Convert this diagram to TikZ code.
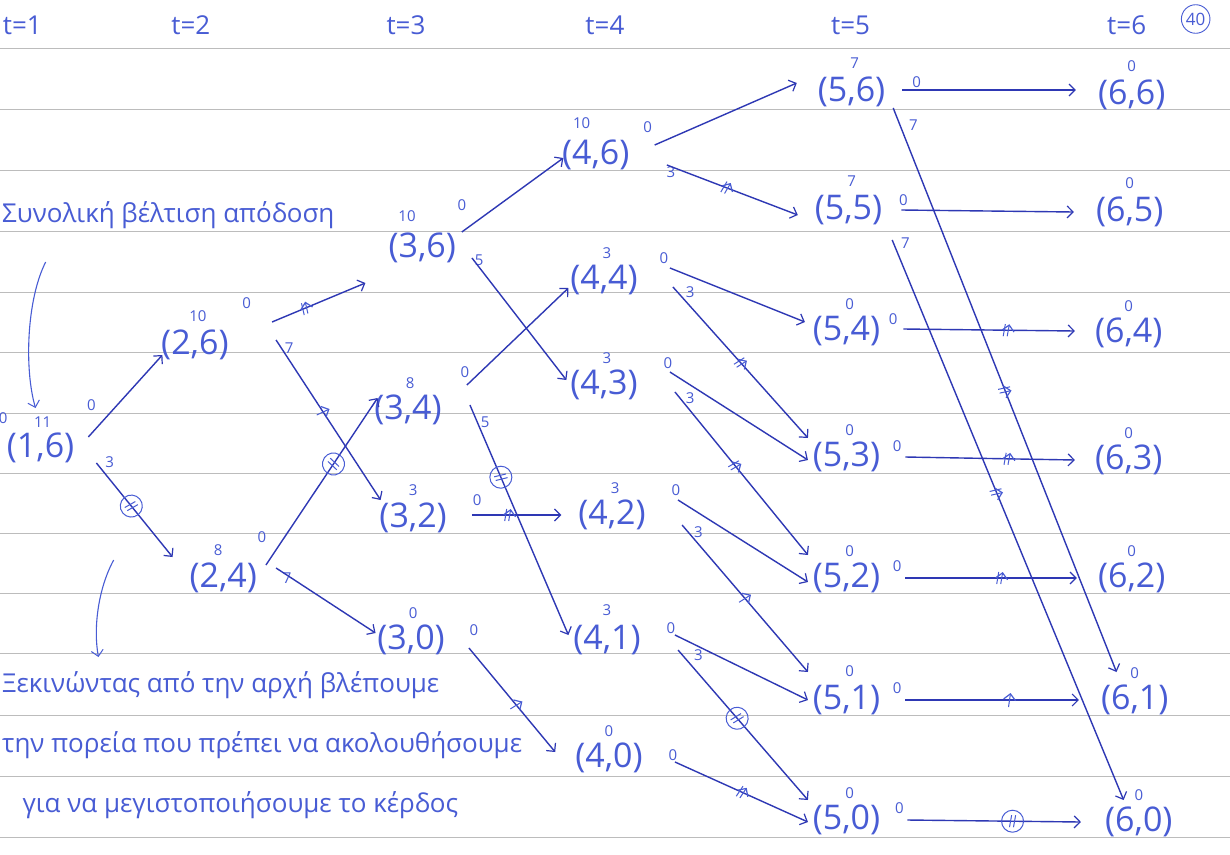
\documentclass[tikz,border=0pt]{standalone}
\usepackage{fontspec}
\setmainfont{Open Sans}
\usetikzlibrary{arrows.meta,decorations.markings,calc}
\definecolor{ink}{RGB}{72,92,212}
\definecolor{inkd}{RGB}{46,56,180}
\definecolor{ruling}{RGB}{188,188,188}
\tikzset{
  st/.style={text=ink,font=\fontsize{34}{36}\selectfont,inner sep=1pt},
  sup/.style={text=ink,font=\fontsize{15}{15}\selectfont,inner sep=0pt},
  lab/.style={text=ink,font=\fontsize{15}{15}\selectfont,inner sep=0pt},
  tlab/.style={text=ink,font=\fontsize{26}{28}\selectfont,inner sep=0pt},
  note/.style={text=ink,font=\fontsize{26}{28}\selectfont,inner sep=0pt,anchor=base west},
  edge/.style={draw=inkd,line width=1.4pt,-{Straight Barb[length=6pt,width=12pt,line width=1.2pt]}},
  thinarrow/.style={draw=ink,line width=1.1pt,-{Straight Barb[length=6pt,width=12pt,line width=1pt]}},
  dtk/.style={postaction={decorate,decoration={markings,mark=at position #1 with {\draw[ink,line width=1pt] (-3pt,-6pt)--(-1pt,6pt) (1pt,-6pt)--(3pt,6pt);}}}},
  stk/.style={postaction={decorate,decoration={markings,mark=at position #1 with {\draw[ink,line width=1pt] (-1pt,-7pt)--(1pt,7pt);}}}},
  ctk/.style={postaction={decorate,decoration={markings,mark=at position #1 with {\draw[ink,line width=1pt] (-2pt,-6pt)--(0pt,6pt) (2pt,-6pt)--(4pt,6pt) (1pt,0pt) circle (11pt);}}}},
  rl/.style={draw=ruling,line width=0.7pt},
}
\begin{document}
\begin{tikzpicture}[x=1.015pt,y=-1pt]
\useasboundingbox (0pt,0pt) rectangle (1230pt,-854pt);
\fill[white] (0pt,0pt) rectangle (1230pt,-854pt);
% ruled lines
\foreach \yy in {48,109,170,231,292,352,413,473,533,593,653,715,776,837}
  \draw[rl] (0pt,-\yy pt) -- (1230pt,-\yy pt);
% time labels
\node[tlab] (t1) at (22,25) {t=1};
\node[tlab] (t2) at (188,25) {t=2};
\node[tlab] (t3) at (400,25) {t=3};
\node[tlab] (t4) at (596,25) {t=4};
\node[tlab] (t5) at (838,25) {t=5};
\node[tlab] (t6) at (1110,25) {t=6};
\node[text=ink,draw=ink,circle,line width=0.9pt,inner sep=2pt,font=\fontsize{17}{17}\selectfont] (pg) at (1178,19) {40};
% states
\node[st] (n16) at (40,448) {(1,6)};
\node[st] (n26) at (192,345) {(2,6)};
\node[st] (n24) at (220,578) {(2,4)};
\node[st] (n36) at (416,248) {(3,6)};
\node[st] (n34) at (402,410) {(3,4)};
\node[st] (n32) at (407,518) {(3,2)};
\node[st] (n30) at (405,640) {(3,0)};
\node[st] (n46) at (587,155) {(4,6)};
\node[st] (n44) at (595,280) {(4,4)};
\node[st] (n43) at (595,385) {(4,3)};
\node[st] (n42) at (603,515) {(4,2)};
\node[st] (n41) at (598,640) {(4,1)};
\node[st] (n40) at (600,758) {(4,0)};
\node[st] (n56) at (839,92) {(5,6)};
\node[st] (n55) at (836,210) {(5,5)};
\node[st] (n54) at (834,331) {(5,4)};
\node[st] (n53) at (834,457) {(5,3)};
\node[st] (n52) at (834,578) {(5,2)};
\node[st] (n51) at (834,700) {(5,1)};
\node[st] (n50) at (834,820) {(5,0)};
\node[st] (n66) at (1115,95) {(6,6)};
\node[st] (n65) at (1113,212) {(6,5)};
\node[st] (n64) at (1112,333) {(6,4)};
\node[st] (n63) at (1112,460) {(6,3)};
\node[st] (n62) at (1115,578) {(6,2)};
\node[st] (n61) at (1118,700) {(6,1)};
\node[st] (n60) at (1122,822) {(6,0)};
% values above states
\node[sup] (s16) at (42,422) {11};
\node[sup] (s26) at (195,316) {10};
\node[sup] (s24) at (215,550) {8};
\node[sup] (s36) at (401,216) {10};
\node[sup] (s34) at (404,383) {8};
\node[sup] (s32) at (407,490) {3};
\node[sup] (s30) at (407,613) {0};
\node[sup] (s46) at (573,123) {10};
\node[sup] (s44) at (598,253) {3};
\node[sup] (s43) at (598,358) {3};
\node[sup] (s42) at (606,488) {3};
\node[sup] (s41) at (598,610) {3};
\node[sup] (s40) at (600,731) {0};
\node[sup] (s56) at (842,63) {7};
\node[sup] (s55) at (839,181) {7};
\node[sup] (s54) at (837,304) {0};
\node[sup] (s53) at (837,430) {0};
\node[sup] (s52) at (837,551) {0};
\node[sup] (s51) at (837,671) {0};
\node[sup] (s50) at (837,793) {0};
\node[sup] (s66) at (1115,66) {0};
\node[sup] (s65) at (1113,183) {0};
\node[sup] (s64) at (1112,306) {0};
\node[sup] (s63) at (1112,433) {0};
\node[sup] (s62) at (1115,551) {0};
\node[sup] (s61) at (1118,673) {0};
\node[sup] (s60) at (1122,795) {0};
% decision labels
\node[lab] (l16c) at (3,418) {0};
\node[lab] (l16a) at (90,405) {0};
\node[lab] (l16b) at (108,462) {3};
\node[lab] (l26a) at (243,303) {0};
\node[lab] (l26b) at (285,348) {7};
\node[lab] (l24a) at (258,537) {0};
\node[lab] (l24b) at (283,578) {7};
\node[lab] (l36a) at (455,205) {0};
\node[lab] (l36b) at (472,260) {5};
\node[lab] (l34a) at (458,372) {0};
\node[lab] (l34b) at (478,422) {5};
\node[lab] (l32a) at (470,500) {0};
\node[lab] (l30a) at (467,630) {0};
\node[lab] (l46a) at (638,127) {0};
\node[lab] (l46b) at (661,172) {3};
\node[lab] (l44a) at (654,258) {0};
\node[lab] (l44b) at (680,292) {3};
\node[lab] (l43a) at (658,363) {0};
\node[lab] (l43b) at (680,398) {3};
\node[lab] (l42a) at (666,490) {0};
\node[lab] (l42b) at (688,532) {3};
\node[lab] (l41a) at (661,628) {0};
\node[lab] (l41b) at (688,655) {3};
\node[lab] (l40a) at (663,755) {0};
\node[lab] (l56a) at (903,82) {0};
\node[lab] (l56b) at (900,125) {7};
\node[lab] (l55a) at (890,200) {0};
\node[lab] (l55b) at (892,243) {7};
\node[lab] (l54a) at (880,319) {0};
\node[lab] (l53a) at (884,446) {0};
\node[lab] (l52a) at (884,566) {0};
\node[lab] (l51a) at (884,688) {0};
\node[lab] (l50a) at (886,808) {0};
% transitions t=1 -> t=2
\draw[edge] ([shift={(47,-11)}]n16.center) -- ([shift={(-32,10)}]n26.center);
\draw[edge,ctk=0.45] ([shift={(55,15)}]n16.center) -- ([shift={(-50,-21)}]n24.center);
% t=2 -> t=3
\draw[edge,dtk=0.35] ([shift={(76,-23)}]n26.center) -- ([shift={(-56,35)}]n36.center);
\draw[edge,stk=0.45] ([shift={(80,-5)}]n26.center) -- ([shift={(-32,-18)}]n32.center);
\draw[edge,ctk=0.6] ([shift={(42,-13)}]n24.center) -- ([shift={(-30,-12)}]n34.center);
\draw[edge] ([shift={(52,-10)}]n24.center) -- ([shift={(-35,-7)}]n30.center);
% t=3 -> t=4
\draw[edge] ([shift={(39,-16)}]n36.center) -- ([shift={(-32,3)}]n46.center);
\draw[edge] ([shift={(49,10)}]n36.center) -- ([shift={(-37,-5)}]n43.center);
\draw[edge] ([shift={(58,-25)}]n34.center) -- ([shift={(-35,8)}]n44.center);
\draw[edge,ctk=0.31] ([shift={(61,-5)}]n34.center) -- ([shift={(-38,-5)}]n41.center);
\draw[edge,dtk=0.4] ([shift={(58,-3)}]n32.center) -- ([shift={(-50,0)}]n42.center);
\draw[edge,stk=0.55] ([shift={(57,8)}]n30.center) -- ([shift={(-53,-6)}]n40.center);
% t=4 -> t=5
\draw[edge] ([shift={(58,-10)}]n46.center) -- ([shift={(-54,-9)}]n56.center);
\draw[edge,dtk=0.45] ([shift={(70,10)}]n46.center) -- ([shift={(-50,5)}]n55.center);
\draw[edge] ([shift={(65,-12)}]n44.center) -- ([shift={(-41,-9)}]n54.center);
\draw[edge,dtk=0.5] ([shift={(68,7)}]n44.center) -- ([shift={(-38,-19)}]n53.center);
\draw[edge] ([shift={(65,-13)}]n43.center) -- ([shift={(-38,3)}]n53.center);
\draw[edge,dtk=0.45] ([shift={(70,7)}]n43.center) -- ([shift={(-38,-23)}]n52.center);
\draw[edge] ([shift={(65,-15)}]n42.center) -- ([shift={(-38,4)}]n52.center);
\draw[edge,stk=0.5] ([shift={(69,10)}]n42.center) -- ([shift={(-38,-28)}]n51.center);
\draw[edge] ([shift={(67,-5)}]n41.center) -- ([shift={(-38,0)}]n51.center);
\draw[edge,ctk=0.45] ([shift={(70,10)}]n41.center) -- ([shift={(-38,-20)}]n50.center);
\draw[edge,dtk=0.5] ([shift={(65,4)}]n40.center) -- ([shift={(-38,2)}]n50.center);
% t=5 -> t=6
\draw[edge] ([shift={(50,-2)}]n56.center) -- ([shift={(-55,-5)}]n66.center);
\draw[edge,dtk=0.5] ([shift={(41,16)}]n56.center) -- ([shift={(-18,-28)}]n61.center);
\draw[edge] ([shift={(52,0)}]n55.center) -- ([shift={(-55,0)}]n65.center);
\draw[edge,dtk=0.45] ([shift={(43,30)}]n55.center) -- ([shift={(-15,-22)}]n60.center);
\draw[edge,dtk=0.6] ([shift={(56,-2)}]n54.center) -- ([shift={(-53,-2)}]n64.center);
\draw[edge,dtk=0.6] ([shift={(58,0)}]n53.center) -- ([shift={(-53,0)}]n63.center);
\draw[edge,dtk=0.55] ([shift={(58,0)}]n52.center) -- ([shift={(-54,0)}]n62.center);
\draw[edge,stk=0.6] ([shift={(58,0)}]n51.center) -- ([shift={(-55,0)}]n61.center);
\draw[edge,ctk=0.6] ([shift={(60,0)}]n50.center) -- ([shift={(-57,0)}]n60.center);
% notes
\node[note] (nt0) at (2,222) {Συνολική βέλτιση απόδοση};
\draw[thinarrow] ([shift={(43,40)}]nt0.base west) .. controls (26,300) and (24,370) .. ([shift={(-5,-40)}]n16.center);
\node[note] (nt1) at (2,692) {Ξεκινώντας από την αρχή βλέπουμε};
\node[note] (nt2) at (2,752) {την πορεία που πρέπει να ακολουθήσουμε};
\node[note] (nt3) at (22,812) {για να μεγιστοποιήσουμε το κέρδος};
\coordinate (c2) at (112,560);
\draw[thinarrow] (c2) .. controls (96,590) and (92,630) .. ([shift={(95,-35)}]nt1.base west);
\end{tikzpicture}
\end{document}
